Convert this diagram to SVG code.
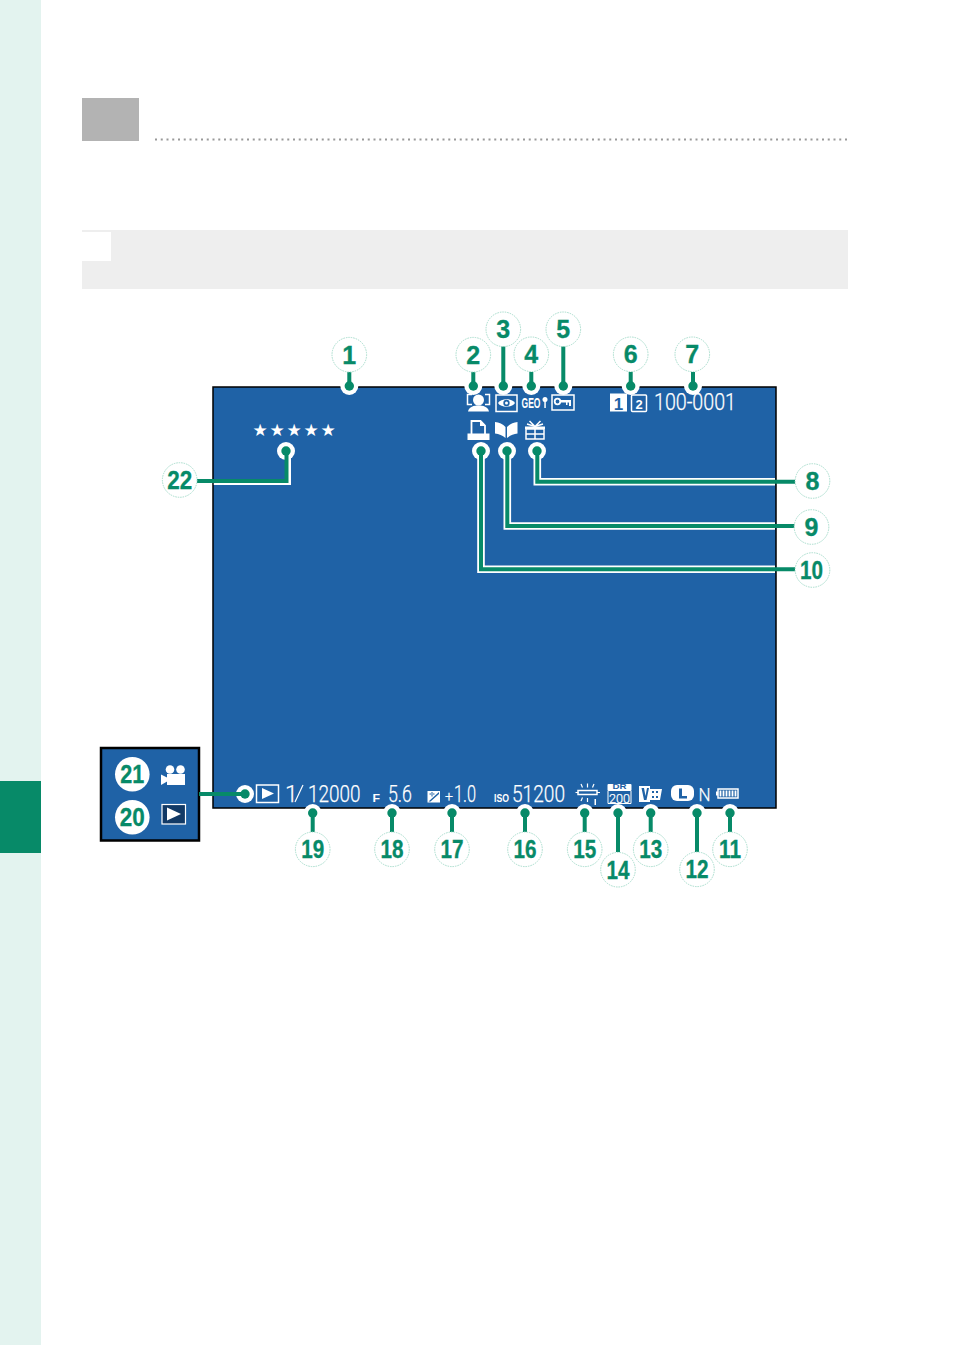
<svg xmlns="http://www.w3.org/2000/svg" width="954" height="1345" viewBox="0 0 954 1345">
<style>
.lab{font-family:"Liberation Sans",Arial,sans-serif;font-weight:700;font-size:25px;fill:#078a68;stroke:#078a68;stroke-width:.3;text-anchor:middle}
.ring{fill:#fff;stroke:#a5dccb;stroke-width:1;stroke-dasharray:1.5 1}
.solid{fill:#fff}
.halo{fill:#fff}
.dot{fill:#078a68}
.ln{fill:none;stroke:#078a68;stroke-width:4}
.wl{fill:none;stroke:#fff;stroke-width:7.6}
.t{font-family:"Roboto","Liberation Sans",sans-serif;font-weight:300;fill:#fff;stroke:#fff;stroke-width:.25}
.b{font-family:"Liberation Sans",sans-serif;font-weight:700;fill:#fff}
.o{fill:none;stroke:#fff;stroke-width:1.5}
.f{fill:#fff}
.k{fill:#1f62a6}
</style>
<rect width="954" height="1345" fill="#fff"/>
<g id="page">
<rect x="0" y="0" width="41" height="1345" fill="#e3f3ef"/>
<rect x="0" y="781" width="41" height="72" fill="#078a68"/>
<rect x="82" y="98" width="57" height="43" fill="#b3b3b3"/>
<line x1="155" y1="139.500" x2="848" y2="139.500" stroke="#999" stroke-width="2" stroke-dasharray="2 3.750"/>
<rect x="82" y="230" width="766" height="59" fill="#eee"/>
<rect x="82" y="232" width="29" height="29" fill="#fff"/>
</g>
<g id="screen">
<rect x="213" y="387" width="563" height="421" fill="#1f62a6" stroke="#000" stroke-width="1.500"/>
</g>
<g id="screen-icons">
<g id="face"><path class="o" d="M472 394.500h-4.500v10h4.500M485 394.500h4.500v10h-4.500"/><circle class="f" cx="478.500" cy="400" r="5.500"/><path class="f" d="M468 411.500c1-5 6-6 10.500-6s9.500 1 10.500 6z"/></g>
<g id="eye"><rect class="o" x="496" y="395" width="21" height="16.500"/><path class="f" d="M498 403c3-5 14-5 17 0c-3 5-14 5-17 0z"/><circle class="k" cx="506.500" cy="403" r="3.200"/><circle class="f" cx="506.500" cy="403" r="1.500"/></g>
<g id="geo"><text class="b" x="521.500" y="408" font-size="15" textLength="19" lengthAdjust="spacingAndGlyphs">GEO</text><circle class="f" cx="545" cy="399.500" r="2.500"/><rect class="f" x="544.300" y="400" width="1.500" height="8"/></g>
<g id="key"><rect class="o" x="552" y="395" width="22" height="15"/><circle cx="557.500" cy="401.500" r="2.800" fill="none" stroke="#fff" stroke-width="1.800"/><path class="f" d="M560 400h11v6h-2v-3.500h-1.500v2.500h-1.500v-2.500h-6z"/></g>
<g id="cards"><rect class="f" x="610" y="393.500" width="17" height="18"/><text x="618.500" y="409.500" font-family="Liberation Sans,sans-serif" font-weight="700" font-size="17" text-anchor="middle" fill="#1f62a6">1</text><rect class="o" x="631.500" y="395" width="15" height="16.500" rx="1"/><text class="b" x="639" y="409" font-size="13" text-anchor="middle">2</text></g>
<text class="t" x="654" y="410" font-size="23" textLength="82" lengthAdjust="spacingAndGlyphs">100-0001</text>
<g id="print"><path d="M471.500 434V421h9l4.500 4.500v8.500" fill="none" stroke="#fff" stroke-width="1.800"/><path class="f" d="M480 420.500l5.500 5.500h-5.500z"/><rect class="f" x="467.500" y="433.500" width="22" height="6.500"/></g>
<g id="book"><path class="f" d="M495 422c4 .5 8 2 10.500 5v11c-3-2.500-6.500-4-10.500-4.500z"/><path class="f" d="M517.500 422c-4 .5-8 2-10.500 5v11c3-2.500 6.500-4 10.500-4.500z"/></g>
<g id="gift"><rect class="o" x="526" y="429" width="18" height="10"/><rect class="f" x="525" y="426.500" width="20" height="2.500"/><path class="o" d="M535 426v13M526 434h18M529.500 421l5.500 5.500l5.500-5.500M527 424l8 2.500l8-2.500"/></g>
<text x="252.500" y="436" font-family="DejaVu Sans,sans-serif" font-size="17" letter-spacing="1.750" fill="#fff">★★★★★</text>
<g id="play"><rect class="o" x="256.500" y="785" width="22" height="17.500"/><path class="f" d="M262 788l12 5.500l-12 5.500z"/></g>
<text class="t" x="285" y="802" font-size="23">1</text>
<path d="M303 785l-8 17" stroke="#fff" stroke-width="1.200" fill="none"/>
<text class="t" x="308" y="802" font-size="23" textLength="52.500" lengthAdjust="spacingAndGlyphs">12000</text>
<text class="b" x="372.500" y="802" font-size="10" textLength="7.500" lengthAdjust="spacingAndGlyphs">F</text>
<text class="t" x="388" y="802" font-size="23" textLength="24" lengthAdjust="spacingAndGlyphs">5.6</text>
<g id="ev"><rect class="f" x="427.500" y="791" width="12.500" height="11.500"/><path class="k" d="M428.500 801.500l10.500-9.500v2l-8.500 7.500zM429.500 793.500h5v1h-5zM431.500 792v4.500h1v-4.500z"/></g>
<text class="t" x="445" y="801" font-size="14" textLength="8" lengthAdjust="spacingAndGlyphs">+</text>
<text class="t" x="454" y="802" font-size="23" textLength="22" lengthAdjust="spacingAndGlyphs">1.0</text>
<text class="b" x="494" y="802" font-size="10" textLength="15" lengthAdjust="spacingAndGlyphs">ISO</text>
<text class="t" x="512" y="802" font-size="23" textLength="53" lengthAdjust="spacingAndGlyphs">51200</text>
<g id="wb"><rect class="o" x="578" y="790.500" width="19" height="4"/><path d="M575.500 792.500h3M597 792.500h3M581 784l1.500 3.500M587.500 783.500v4M594 784l-1.500 3.500M581 801l1.500-3.500M587.500 802v-4" stroke="#fff" stroke-width="1.200" fill="none"/><rect class="f" x="594.500" y="799" width="1.500" height="6"/></g>
<g id="dr"><rect class="f" x="607.500" y="784" width="24" height="7" rx="1"/><path d="M608 791v12.500h23V791" fill="none" stroke="#fff"/><text x="619.500" y="789.300" font-family="Liberation Sans,sans-serif" font-weight="700" font-size="6.500" text-anchor="middle" fill="#1f62a6" textLength="14" lengthAdjust="spacingAndGlyphs">DR</text><text class="t" x="619.500" y="802.800" font-size="12.500" text-anchor="middle" textLength="21" lengthAdjust="spacingAndGlyphs">200</text></g>
<g id="film"><path class="f" d="M639 786h11v3h12l-2 11h-10v2h-11z"/><path class="k" d="M641.500 788h2.500l1.500 8l1.500-8h2l-2.500 12h-2.500z"/><rect class="k" x="652" y="791" width="2" height="2"/><rect class="k" x="656" y="791" width="2" height="2"/><rect class="k" x="652" y="796" width="2" height="2"/><rect class="k" x="656" y="796" width="2" height="2"/></g>
<g id="size"><rect class="f" x="671" y="785" width="23" height="16" rx="6"/><path class="k" d="M679 788.500h3v7.500h5v2.500h-8z"/></g>
<text class="t" x="698.500" y="801" font-size="19" textLength="12" lengthAdjust="spacingAndGlyphs">N</text>
<g id="battery"><rect class="o" x="718" y="789" width="20" height="9"/><rect class="f" x="716" y="791.500" width="2" height="4"/><path d="M720.500 790.500v6M723.500 790.500v6M726.500 790.500v6M729.500 790.500v6M732.500 790.500v6M735.500 790.500v6" stroke="#fff" stroke-width="1.800"/></g>
</g>
<g id="inset">
<rect x="101" y="748" width="98" height="92.500" fill="#1f62a6" stroke="#000" stroke-width="2.500"/>
<g id="cam"><circle class="f" cx="170" cy="769.500" r="4.300"/><circle class="f" cx="180.500" cy="769.500" r="4.300"/><rect class="f" x="167" y="774" width="18" height="11"/><path class="f" d="M161 774.500v10.500l7-4v-3z"/></g>
<g id="playbtn"><rect x="162" y="804.500" width="23.500" height="19.500" fill="#123a66" stroke="#fff" stroke-width="1.200"/><path class="f" d="M167 807.500l14 6.500l-14 6.500z"/></g>
</g>
<g id="halos">
<circle class="halo" cx="349.300" cy="386" r="9"/><circle class="halo" cx="473.300" cy="386" r="9"/><circle class="halo" cx="503.300" cy="386" r="9"/><circle class="halo" cx="531.300" cy="386" r="9"/><circle class="halo" cx="563.300" cy="386" r="9"/><circle class="halo" cx="630.700" cy="386" r="9"/><circle class="halo" cx="693" cy="386" r="9"/>
<circle class="halo" cx="537" cy="451" r="9"/><circle class="halo" cx="507" cy="451" r="9"/><circle class="halo" cx="481" cy="451" r="9"/><circle class="halo" cx="286" cy="451" r="9"/>
<circle class="halo" cx="245" cy="794" r="9"/>
<circle class="halo" cx="312.700" cy="813" r="9"/><circle class="halo" cx="392" cy="813" r="9"/><circle class="halo" cx="452" cy="813" r="9"/><circle class="halo" cx="525" cy="813" r="9"/><circle class="halo" cx="584.700" cy="813" r="9"/><circle class="halo" cx="618" cy="813" r="9"/><circle class="halo" cx="650.700" cy="813" r="9"/><circle class="halo" cx="697" cy="813" r="9"/><circle class="halo" cx="730" cy="813" r="9"/>
</g>
<g id="connectors">
<path class="wl" d="M537.300 451V481.700H775M507.300 451V526H775M481 451V569.300H775"/>
<path d="M289 451V483H213.800" fill="none" stroke="#fff" stroke-width="4"/>
<path class="ln" d="M349.300 372V386M473.300 372V386M503.300 346V386M531.300 372V386M563.300 346V386M630.700 372V386M693 372V386"/>
<path class="ln" d="M537.300 451V481.700H795M507.300 451V526H795M481 451V569.300H795M286.500 451V481H197"/>
<path class="ln" d="M199 794H245"/>
<path class="ln" d="M312.700 813V832M392 813V832M452 813V832M525 813V832M584.700 813V832M618 813V852M650.700 813V832M697 813V852M730 813V832"/>
<g class="dot">
<circle cx="349.300" cy="386" r="4.700"/><circle cx="473.300" cy="386" r="4.700"/><circle cx="503.300" cy="386" r="4.700"/><circle cx="531.300" cy="386" r="4.700"/><circle cx="563.300" cy="386" r="4.700"/><circle cx="630.700" cy="386" r="4.700"/><circle cx="693" cy="386" r="4.700"/>
<circle cx="537" cy="451" r="4.700"/><circle cx="507" cy="451" r="4.700"/><circle cx="481" cy="451" r="4.700"/><circle cx="286" cy="451" r="4.700"/>
<circle cx="245" cy="794" r="4.700"/>
<circle cx="312.700" cy="813" r="4.700"/><circle cx="392" cy="813" r="4.700"/><circle cx="452" cy="813" r="4.700"/><circle cx="525" cy="813" r="4.700"/><circle cx="584.700" cy="813" r="4.700"/><circle cx="618" cy="813" r="4.700"/><circle cx="650.700" cy="813" r="4.700"/><circle cx="697" cy="813" r="4.700"/><circle cx="730" cy="813" r="4.700"/>
</g>
</g>
<g id="n1"><circle class="ring" cx="349.300" cy="354.700" r="17.300"/><text class="lab" x="349.300" y="363.500">1</text></g>
<g id="n2"><circle class="ring" cx="473.300" cy="354.700" r="17.300"/><text class="lab" x="473.300" y="363.500">2</text></g>
<g id="n3"><circle class="ring" cx="503.300" cy="329.300" r="17.300"/><text class="lab" x="503.300" y="338">3</text></g>
<g id="n4"><circle class="ring" cx="531.300" cy="354.300" r="17.300"/><text class="lab" x="531.300" y="363">4</text></g>
<g id="n5"><circle class="ring" cx="563.300" cy="329.300" r="17.300"/><text class="lab" x="563.300" y="338">5</text></g>
<g id="n6"><circle class="ring" cx="630.700" cy="354.300" r="17.300"/><text class="lab" x="630.700" y="363">6</text></g>
<g id="n7"><circle class="ring" cx="692.300" cy="354.300" r="17.300"/><text class="lab" x="692.300" y="363">7</text></g>
<g id="n8"><circle class="ring" cx="812.500" cy="481" r="17.300"/><text class="lab" x="812.500" y="490">8</text></g>
<g id="n9"><circle class="ring" cx="811.500" cy="527" r="17.300"/><text class="lab" x="811.500" y="536">9</text></g>
<g id="n10"><circle class="ring" cx="812.500" cy="570" r="17.300"/><text class="lab" x="811.500" y="579" textLength="23" lengthAdjust="spacingAndGlyphs">10</text></g>
<g id="n11"><circle class="ring" cx="730" cy="849.300" r="17.300"/><text class="lab" x="730" y="858.300" textLength="22" lengthAdjust="spacingAndGlyphs">11</text></g>
<g id="n12"><circle class="ring" cx="697" cy="869.300" r="17.300"/><text class="lab" x="697" y="878.300" textLength="23" lengthAdjust="spacingAndGlyphs">12</text></g>
<g id="n13"><circle class="ring" cx="650.700" cy="849.300" r="17.300"/><text class="lab" x="650.700" y="858.300" textLength="23" lengthAdjust="spacingAndGlyphs">13</text></g>
<g id="n14"><circle class="ring" cx="618" cy="869.700" r="17.300"/><text class="lab" x="618" y="878.700" textLength="23" lengthAdjust="spacingAndGlyphs">14</text></g>
<g id="n15"><circle class="ring" cx="584.700" cy="849.300" r="17.300"/><text class="lab" x="584.700" y="858.300" textLength="23" lengthAdjust="spacingAndGlyphs">15</text></g>
<g id="n16"><circle class="ring" cx="525" cy="849.300" r="17.300"/><text class="lab" x="525" y="858.300" textLength="23" lengthAdjust="spacingAndGlyphs">16</text></g>
<g id="n17"><circle class="ring" cx="452" cy="849.300" r="17.300"/><text class="lab" x="452" y="858.300" textLength="23" lengthAdjust="spacingAndGlyphs">17</text></g>
<g id="n18"><circle class="ring" cx="392" cy="849.300" r="17.300"/><text class="lab" x="392" y="858.300" textLength="23" lengthAdjust="spacingAndGlyphs">18</text></g>
<g id="n19"><circle class="ring" cx="312.700" cy="849.300" r="17.300"/><text class="lab" x="312.700" y="858.300" textLength="23" lengthAdjust="spacingAndGlyphs">19</text></g>
<g id="n20"><circle class="solid" cx="132.300" cy="817.300" r="17.300"/><text class="lab" x="132.300" y="826.300" textLength="25" lengthAdjust="spacingAndGlyphs">20</text></g>
<g id="n21"><circle class="solid" cx="132.300" cy="774.300" r="17.300"/><text class="lab" x="132.300" y="783.300" textLength="24" lengthAdjust="spacingAndGlyphs">21</text></g>
<g id="n22"><circle class="ring" cx="179.700" cy="480" r="17.300"/><text class="lab" x="179.700" y="489" textLength="25" lengthAdjust="spacingAndGlyphs">22</text></g>
</svg>
